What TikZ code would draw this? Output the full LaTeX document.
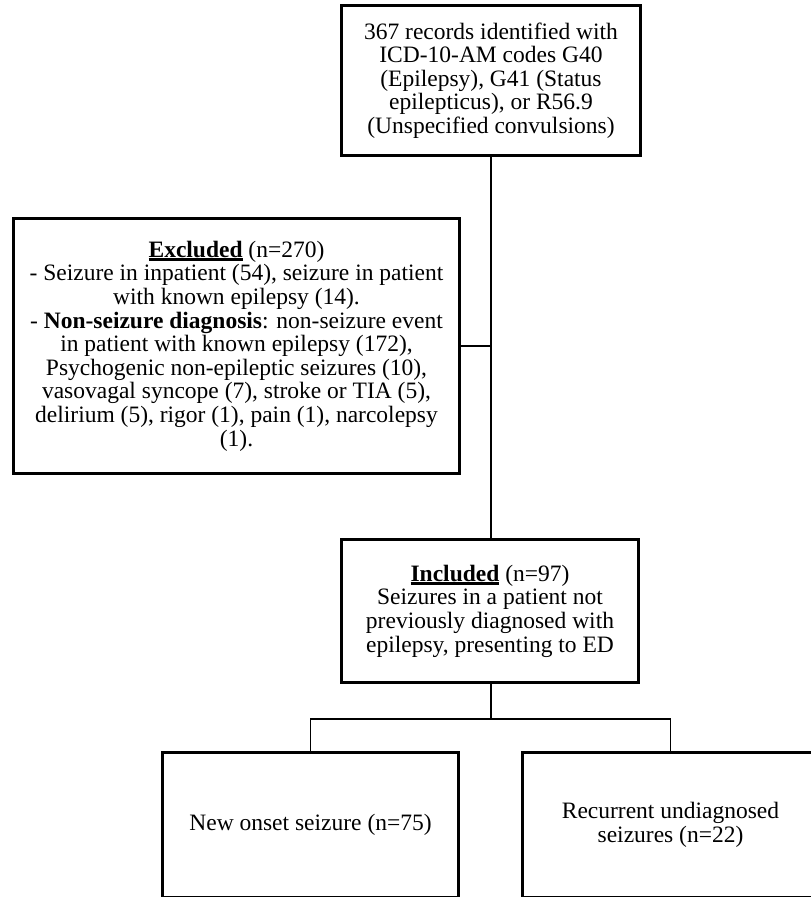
\documentclass[tikz,border=0pt]{standalone}
\usepackage{fontspec}
\setmainfont{Liberation Serif}
\newcommand{\myul}[1]{\setbox0\hbox{#1}\rlap{\rule[-4pt]{\wd0}{2.8pt}}\box0\relax}
\begin{document}
\begin{tikzpicture}[x=1pt,y=-1pt,
  box/.style={draw=black,line width=3pt,rectangle,inner sep=0pt,align=center,
    font=\fontsize{23.5}{23.6}\selectfont},
  conn/.style={draw=black,line width=1.5pt}]
\useasboundingbox (0,0) rectangle (811,897);
\clip (0,0) rectangle (811,897);
\node[box,minimum width=299pt,minimum height=150pt] (top) at (491,80.5)
 {367 records identified with\\ICD-10-AM codes G40\\(Epilepsy), G41 (Status\\epilepticus), or R56.9\\(Unspecified convulsions)};
\node[box,minimum width=446pt,minimum height=255pt] (excl) at (236.5,346)
 {\myul{\textbf{Excluded}} (n=270)\\- Seizure in inpatient (54), seizure in patient\\with known epilepsy (14).\\- \textbf{Non-seizure diagnosis}: non-seizure event\\in patient with known epilepsy (172),\\Psychogenic non-epileptic seizures (10),\\vasovagal syncope (7), stroke or TIA (5),\\delirium (5), rigor (1), pain (1), narcolepsy\\(1).};
\node[box,minimum width=297pt,minimum height=143pt] (incl) at (490,611)
 {\myul{\textbf{Included}} (n=97)\\Seizures in a patient not\\previously diagnosed with\\epilepsy, presenting to ED};
\node[box,minimum width=296pt,minimum height=145pt] (newon) at (310.5,825)
 {New onset seizure (n=75)};
\node[box,minimum width=296pt,minimum height=145pt] (recur) at (670.5,825)
 {Recurrent undiagnosed\\seizures (n=22)};
\coordinate (j) at (491,719);
\draw[conn] (top.south) -- (top.south |- incl.north);
\draw[conn] (excl.east) -- (excl.east -| top.south);
\draw[conn] (incl.south -| j) -- (j);
\draw[conn] (newon.north) |- (j) -| (recur.north);
\end{tikzpicture}
\end{document}
